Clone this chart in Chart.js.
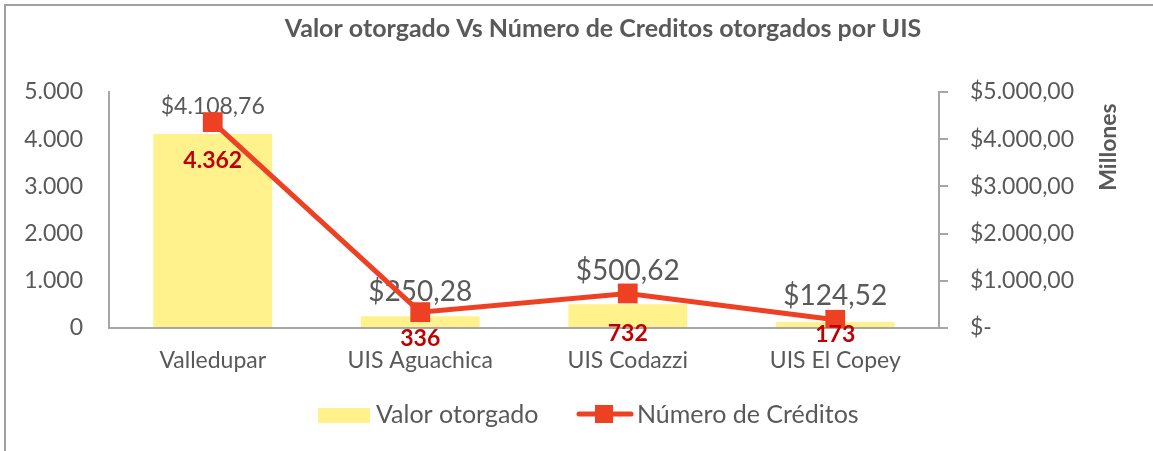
<!DOCTYPE html>
<html>
<head>
<meta charset="utf-8">
<script src="https://cdn.jsdelivr.net/npm/chart.js@4.4.1/dist/chart.umd.min.js"></script>
<style>
    html, body { margin: 0; padding: 0; background: #fff; }
    #wrap { position: relative; width: 1153px; height: 451px; }
</style>
</head>
<body>
<div id="wrap"><canvas id="chart" width="1153" height="451"></canvas></div>
<script>
// ── data ──
const categories = ['Valledupar', 'UIS Aguachica', 'UIS Codazzi', 'UIS El Copey'];
const valorOtorgado = [4108.76, 250.28, 500.62, 124.52];   // millones
const numeroCreditos = [4362, 336, 732, 173];
const axisMin = 0;
const axisMax = 5000;
const axisStep = 1000;

const TEXT = '#595959';
const AXIS = '#A6A6A6';
const BAR = '#FFF28C';
const LINE = '#EE4123';
const RED = '#C00000';
const FONT = 'Lato, "Open Sans", sans-serif';

// label nudges (px) and sizes as placed in the original
const barLabelLift = [27, 24, 33, 26];
const barLabelSize = [23, 28, 28, 28];
const lineLabelDrop = [38, 26, 40, 15];

function fmtNum(v, dec) {
    const parts = v.toFixed(dec).split('.');
    const int = parts[0].replace(/\B(?=(\d{3})+(?!\d))/g, '.');
    return parts[1] ? int + ',' + parts[1] : int;
}
const fmtMoney = v => v === 0 ? '$-' : '$' + fmtNum(v, 2);

const decor = {
    id: 'decor',
    beforeDraw(chart) {
        const ctx = chart.ctx;
        ctx.save();
        ctx.strokeStyle = '#A0A0A0';
        ctx.lineWidth = 2;
        ctx.beginPath();
        ctx.moveTo(5, chart.height);
        ctx.lineTo(5, 5);
        ctx.lineTo(chart.width, 5);
        ctx.stroke();
        ctx.restore();
    },
    afterDatasetDraw(chart, args) {
        const ctx = chart.ctx;
        const meta = args.meta;
        ctx.save();
        ctx.textAlign = 'center';
        ctx.textBaseline = 'middle';
        if (meta.type === 'bar') {
            ctx.fillStyle = TEXT;
            meta.data.forEach((el, i) => {
                ctx.font = barLabelSize[i] + 'px ' + FONT;
                ctx.fillText(fmtMoney(valorOtorgado[i]), el.x, el.y - barLabelLift[i]);
            });
        } else {
            ctx.font = 'bold 23px ' + FONT;
            ctx.fillStyle = RED;
            meta.data.forEach((el, i) => {
                ctx.fillText(fmtNum(numeroCreditos[i], 0), el.x, el.y + lineLabelDrop[i]);
            });
        }
        ctx.restore();
    },
    afterDraw(chart) {
        const ctx = chart.ctx;
        ctx.save();
        // title
        ctx.fillStyle = TEXT;
        ctx.font = 'bold 25px ' + FONT;
        ctx.textAlign = 'center';
        ctx.textBaseline = 'middle';
        ctx.fillText('Valor otorgado Vs Número de Creditos otorgados por UIS', 603, 29);

        // right axis title
        ctx.save();
        ctx.font = 'bold 23px ' + FONT;
        ctx.translate(1109, 147);
        ctx.rotate(-Math.PI / 2);
        ctx.fillText('Millones', 0, 0);
        ctx.restore();

        // legend
        const ds = chart.data.datasets;
        ctx.font = '25px ' + FONT;
        ctx.textAlign = 'left';
        ctx.fillStyle = ds[1].backgroundColor;
        ctx.fillRect(318, 408, 52, 15);
        ctx.fillStyle = TEXT;
        ctx.fillText(ds[1].label, 376, 415);

        ctx.strokeStyle = ds[0].borderColor;
        ctx.lineWidth = 5;
        ctx.lineCap = 'round';
        ctx.beginPath();
        ctx.moveTo(579, 414);
        ctx.lineTo(631, 414);
        ctx.stroke();
        ctx.fillStyle = ds[0].borderColor;
        ctx.fillRect(595, 405, 18, 18);
        ctx.fillStyle = TEXT;
        ctx.fillText(ds[0].label, 637, 415);
        ctx.restore();
    }
};

const tickFont = { family: FONT, size: 23 };

new Chart(document.getElementById('chart'), {
    type: 'bar',
    data: {
        labels: categories,
        datasets: [{
            type: 'line',
            label: 'Número de Créditos',
            data: numeroCreditos,
            yAxisID: 'y',
            borderColor: LINE,
            backgroundColor: LINE,
            borderWidth: 5,
            pointStyle: 'rect',
            pointRadius: 14,
            pointHoverRadius: 14,
            pointBackgroundColor: LINE,
            pointBorderWidth: 0,
            tension: 0,
            order: 0
        }, {
            type: 'bar',
            label: 'Valor otorgado',
            data: valorOtorgado,
            yAxisID: 'y1',
            backgroundColor: BAR,
            barPercentage: 0.573,
            categoryPercentage: 1,
            order: 1
        }]
    },
    options: {
        responsive: false,
        animation: false,
        layout: { padding: { top: 92 } },
        plugins: {
            legend: { display: false },
            title: { display: false },
            tooltip: { enabled: false }
        },
        scales: {
            x: {
                grid: { display: true, drawOnChartArea: false, drawTicks: false },
                border: { display: true, color: AXIS, width: 2 },
                ticks: { color: TEXT, font: tickFont, padding: 19 },
                afterFit(s) { s.height = 451 - 328; }
            },
            y: {
                position: 'left',
                min: axisMin, max: axisMax,
                ticks: { stepSize: axisStep, color: TEXT, font: tickFont, padding: 26,
                         callback: v => fmtNum(v, 0) },
                grid: { drawOnChartArea: false, drawTicks: false },
                border: { display: true, color: AXIS, width: 2 },
                afterFit(s) { s.width = 109; }
            },
            y1: {
                position: 'right',
                min: axisMin, max: axisMax,
                ticks: { stepSize: axisStep, color: TEXT, font: tickFont, padding: 22,
                         callback: v => fmtMoney(v) },
                grid: { drawOnChartArea: false, drawTicks: true, tickLength: 9, color: AXIS, lineWidth: 2 },
                border: { display: true, color: AXIS, width: 2 },
                afterFit(s) { s.width = 1153 - 939; }
            }
        }
    },
    plugins: [decor]
});
</script>
</body>
</html>
